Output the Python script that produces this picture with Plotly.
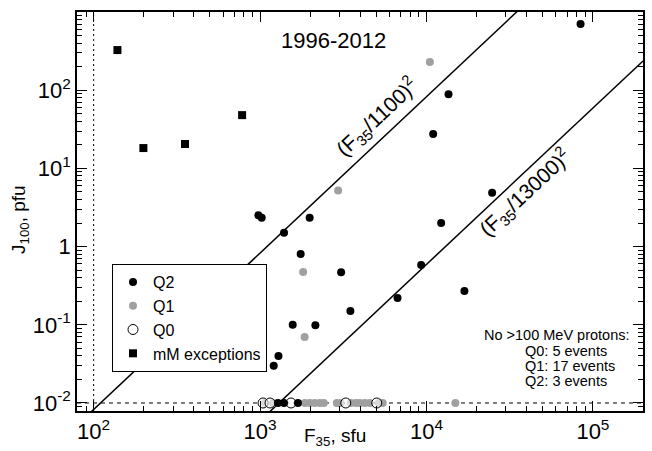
import numpy as np
import plotly.graph_objects as go

# ---------------- data ----------------
q2_f = [84300, 13560, 10970, 24800, 1986, 1754, 3070, 12250, 9290, 16900, 6700,
        3490, 2150, 977, 1023, 1393, 1571, 1290, 1208, 1282, 1393, 1689]
q2_j = [702, 89, 27.5, 4.88, 2.33, 0.805, 0.469, 2.01, 0.582, 0.27, 0.22,
        0.15, 0.099, 2.52, 2.33, 1.50, 0.10, 0.040, 0.030, 0.01, 0.01, 0.01]

q1_f = [10480, 2945, 1815, 1853,
        1071, 1196, 1858, 1992, 2135, 2288, 2417, 2892, 3055, 3508, 3758,
        3972, 4256, 4560, 5164, 5456, 14920]
q1_j = [229, 5.2, 0.474, 0.070] + [0.01] * 17

q0_f = [1042, 1148, 1534, 3273, 5023]
q0_j = [0.01] * 5

mm_f = [139, 199, 354, 780]
mm_j = [326, 18.2, 20.5, 48]

line_consts = [1100, 13000]          # J = (F/const)^2
floor_j = 0.01                        # "no >100 MeV protons" level
f_ref = 100                           # vertical dotted reference

x_tickvals = [1e2, 1e3, 1e4, 1e5]
x_ticktext = ["10<sup>2</sup>", "10<sup>3</sup>", "10<sup>4</sup>", "10<sup>5</sup>"]
y_tickvals = [1e-2, 1e-1, 1, 1e1, 1e2, 1e3]
y_ticktext = ["10<sup>-2</sup>", "10<sup>-1</sup>", "1", "10<sup>1</sup>", "10<sup>2</sup>", "10<sup>3</sup>"]

# ---------------- layout constants ----------------
W, H = 652, 451
ML, MR, MT, MB = 77, 9, 12, 40
x_range = [1.9, 5.301]
y_range = [np.log10(0.0079), 3.0]
FONT = "Liberation Sans, Arial, Helvetica, sans-serif"
GRAY = "#a0a0a0"

fig = go.Figure()

# reference lines
fx = np.array([10 ** x_range[0], 10 ** x_range[1]])
fig.add_trace(go.Scatter(x=fx, y=[floor_j, floor_j], mode="lines",
                         line=dict(color="black", width=1, dash="4px,4px"),
                         showlegend=False, hoverinfo="skip"))
fig.add_trace(go.Scatter(x=[f_ref, f_ref], y=[10 ** y_range[0], 10 ** y_range[1]], mode="lines",
                         line=dict(color="black", width=1, dash="2px,3px"),
                         showlegend=False, hoverinfo="skip"))
for c in line_consts:
    fig.add_trace(go.Scatter(x=fx, y=(fx / c) ** 2, mode="lines",
                             line=dict(color="black", width=1.5),
                             showlegend=False, hoverinfo="skip"))

# data
fig.add_trace(go.Scatter(x=q1_f, y=q1_j, mode="markers", name="Q1",
                         marker=dict(color=GRAY, size=8, line=dict(width=0))))
fig.add_trace(go.Scatter(x=q0_f, y=q0_j, mode="markers", name="Q0",
                         marker=dict(color="rgba(255,255,255,0.6)", size=10,
                                     line=dict(color="black", width=1))))
fig.add_trace(go.Scatter(x=q2_f, y=q2_j, mode="markers", name="Q2",
                         marker=dict(color="black", size=8, line=dict(width=0))))
fig.add_trace(go.Scatter(x=mm_f, y=mm_j, mode="markers", name="mM exceptions",
                         marker=dict(color="black", size=8, symbol="square", line=dict(width=0))))

# legend order: Q2, Q1, Q0, mM
order = {"Q2": 1, "Q1": 2, "Q0": 3, "mM exceptions": 4}
for tr in fig.data:
    if tr.name in order:
        tr.legendrank = order[tr.name]

def minor_vals(lo, hi):
    out = []
    for e in range(lo, hi + 1):
        for m in range(2, 10):
            out.append(m * 10.0 ** e)
    return out

axis_common = dict(type="log", showgrid=False, zeroline=False, showline=True,
                   linecolor="black", linewidth=1.5, mirror="ticks",
                   ticks="inside", ticklen=10, tickwidth=1, tickcolor="black",
                   automargin=False,
                   tickfont=dict(family=FONT, size=22, color="black"))

fig.update_xaxes(range=x_range, tickvals=x_tickvals, ticktext=x_ticktext,
                 minor=dict(tickvals=minor_vals(1, 5), ticks="inside", ticklen=5,
                            tickwidth=1, tickcolor="black", showgrid=False),
                 **axis_common)
fig.update_yaxes(range=y_range, tickvals=y_tickvals, ticktext=y_ticktext,
                 minor=dict(tickvals=minor_vals(-3, 2), ticks="inside", ticklen=5,
                            tickwidth=1, tickcolor="black", showgrid=False),
                 **axis_common)

plot_w, plot_h = W - ML - MR, H - MT - MB

# annotations
ann = []
ann.append(dict(text="1996-2012", xref="paper", yref="paper", x=(333 - ML) / plot_w,
                y=1 - (40 - MT) / plot_h, yanchor="middle",
                showarrow=False, font=dict(family=FONT, size=22, color="black")))
ann.append(dict(text="F<sub>35</sub>, sfu", xref="paper", yref="paper",
                x=(335 - ML) / plot_w, y=1 - (437 - MT) / plot_h, yanchor="middle",
                showarrow=False, font=dict(family=FONT, size=19, color="black")))
ann.append(dict(text="J<sub>100</sub>, pfu", xref="paper", yref="paper",
                x=(20 - ML) / plot_w, y=1 - (220 - MT) / plot_h, textangle=-90,
                xanchor="center", yanchor="middle",
                showarrow=False, font=dict(family=FONT, size=19, color="black")))

# line labels (label 1 above-left of its line, label 2 below-right of its line)
px_per_dec_x = plot_w / (x_range[1] - x_range[0])
px_per_dec_y = plot_h / (y_range[1] - y_range[0])
theta = np.degrees(np.arctan(2 * px_per_dec_y / px_per_dec_x))
label_f = [6000, 34000]
label_off = [19, -15]
for c, fpos, off in zip(line_consts, label_f, label_off):
    ann.append(dict(text=f"(F<sub>35</sub>/{c})<sup>2</sup>", xref="x", yref="y",
                    x=np.log10(fpos), y=np.log10((fpos / c) ** 2),
                    xshift=-off * np.sin(np.radians(theta)), yshift=off * np.cos(np.radians(theta)),
                    textangle=-theta, showarrow=False,
                    font=dict(family=FONT, size=21, color="black")))

note_lines = ["No >100 MeV protons:", "Q0: 5 events", "Q1: 17 events", "Q2: 3 events"]
note_x = [482, 523, 523, 523]
note_y = [335, 351, 366, 381]
for t, xx, yy in zip(note_lines, note_x, note_y):
    ann.append(dict(text=t, xref="paper", yref="paper",
                    x=(xx - ML) / plot_w, y=1 - (yy - MT) / plot_h,
                    xanchor="left", yanchor="middle", showarrow=False,
                    font=dict(family=FONT, size=14.5, color="black")))

fig.update_layout(
    width=W, height=H,
    margin=dict(l=ML, r=MR, t=MT, b=MB, autoexpand=False),
    paper_bgcolor="white", plot_bgcolor="white",
    font=dict(family=FONT, color="black"),
    annotations=ann,
    showlegend=True,
    legend=dict(x=(112 - ML) / plot_w, y=1 - (264 - MT) / plot_h, xanchor="left", yanchor="top",
                bgcolor="white", bordercolor="black", borderwidth=1,
                font=dict(family=FONT, size=16, color="black"),
                itemwidth=30, tracegroupgap=0),
)

fig.write_html("out.html", config={"displayModeBar": False},
               post_script="document.body.style.margin='0px';document.body.style.padding='0px';")
